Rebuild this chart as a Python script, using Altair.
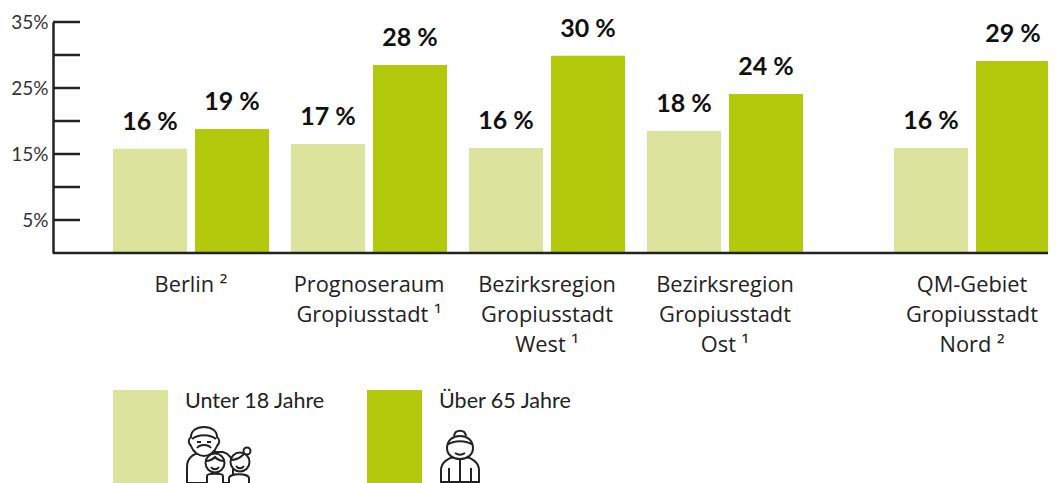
import altair as alt
import pandas as pd

AREAS_MAIN = ["Berlin", "Prognoseraum", "West", "Ost"]
AREAS_SIDE = ["QM"]
AREA_LABELS = ["Berlin ²", "Prognoseraum\nGropiusstadt ¹", "Bezirksregion\nGropiusstadt\nWest ¹",
               "Bezirksregion\nGropiusstadt\nOst ¹", "QM-Gebiet\nGropiusstadt\nNord ²"]
UNDER_18 = [15.8, 16.5, 15.9, 18.5, 15.9]
OVER_65 = [18.8, 28.5, 29.9, 24.1, 29.1]
UNDER_18_LABELS = ["16 %", "17 %", "16 %", "18 %", "16 %"]
OVER_65_LABELS = ["19 %", "28 %", "30 %", "24 %", "29 %"]
SERIES = ["Unter 18 Jahre", "Über 65 Jahre"]
COLORS = ["#dbe39c", "#b2c90c"]
TICKS = [5, 10, 15, 20, 25, 30, 35]
TICK_LABELS = [5, 15, 25, 35]

FONT = "Lato"
INK = "#222222"
W, H = 995, 231

rows = []
for i, a in enumerate(AREAS_MAIN + AREAS_SIDE):
    rows.append(dict(area=a, series=SERIES[0], value=UNDER_18[i], label=UNDER_18_LABELS[i]))
    rows.append(dict(area=a, series=SERIES[1], value=OVER_65[i], label=OVER_65_LABELS[i]))
df = pd.DataFrame(rows)
names = pd.DataFrame(dict(area=AREAS_MAIN + AREAS_SIDE, text=AREA_LABELS))

color = alt.Color("series:N", scale=alt.Scale(domain=SERIES, range=COLORS), legend=None)
yscale = alt.Scale(domain=[0, 35])
yaxis = alt.Axis(values=TICK_LABELS, labelExpr="datum.value + '%'", ticks=False, grid=False,
                 domainColor=INK, domainWidth=2.5, labelFont=FONT, labelFontSize=19,
                 labelColor="#333333", labelPadding=5, title=None)
yenc = alt.Y("value:Q", scale=yscale, axis=yaxis)


def group(areas, rng):
    sc = alt.Scale(type="band", domain=areas, range=rng, paddingInner=0.1236, paddingOuter=0)
    x = alt.X("area:N", scale=sc, axis=None, title=None, sort=None)
    xo_sc = alt.Scale(type="band", domain=SERIES, paddingInner=0.0976, paddingOuter=0)
    xo = alt.XOffset("series:N", scale=xo_sc, sort=None)
    sub = df[df.area.isin(areas)]
    bars = alt.Chart(sub).mark_bar().encode(x=x, xOffset=xo, y=yenc, color=color)
    nums = alt.Chart(sub).mark_text(baseline="bottom", dy=-14, font=FONT, fontSize=25, fontWeight="bold",
                                    color="#111111").encode(
        x=alt.X("area:N", scale=sc, axis=None, title=None, sort=None, bandPosition=0),
        xOffset=alt.XOffset("series:N", scale=xo_sc, sort=None, bandPosition=0.5),
        y=yenc, text="label:N")
    cats = alt.Chart(names[names.area.isin(areas)]).mark_text(
        baseline="middle", font="Open Sans", fontSize=21.8, color=INK, lineBreak="\n", lineHeight=30
    ).encode(x=alt.X("area:N", scale=sc, axis=None, title=None, sort=None, bandPosition=0.5),
             y=alt.value(263), text="text:N")
    return alt.layer(bars, nums, cats).resolve_scale(xOffset="independent")


main = group(AREAS_MAIN, [60, 750])
side = group(AREAS_SIDE, [841, 997])

tick_rules = alt.Chart(pd.DataFrame(dict(t=TICKS))).mark_rule(color=INK, strokeWidth=2.5).encode(
    y=alt.Y("t:Q", scale=yscale, axis=yaxis), x=alt.value(0), x2=alt.value(27))
baseline = alt.Chart(pd.DataFrame(dict(t=[0]))).mark_rule(color=INK, strokeWidth=2.5).encode(
    y=alt.Y("t:Q", scale=yscale, axis=yaxis), x=alt.value(0), x2=alt.value(W))


def swatch(name, x0):
    return alt.Chart(pd.DataFrame(dict(series=[name]))).mark_rect().encode(
        x=alt.value(x0), x2=alt.value(x0 + 55), y=alt.value(368), y2=alt.value(461), color=color)


def legend_text(name, x0):
    return alt.Chart(pd.DataFrame(dict(t=[name]))).mark_text(
        align="left", baseline="middle", font=FONT, fontSize=21.5, color=INK
    ).encode(x=alt.value(x0), y=alt.value(380), text="t:N")


def circ(cx, cy, r):
    return f"M{cx-r},{cy}A{r},{r} 0 1 0 {cx+r},{cy}A{r},{r} 0 1 0 {cx-r},{cy}Z"


def icon(path, x0, y0, fill="white"):
    return alt.Chart(pd.DataFrame(dict(p=[0]))).mark_point(
        shape=path, size=4, fill=fill, filled=True, stroke=INK, strokeWidth=2, opacity=1
    ).encode(x=alt.value(x0), y=alt.value(y0))


# elder with two children (relative to the anchor point)
elder_body = "M-16,38V22C-16,12 -9,9 -2,7L20,7C27,9 30,14 30,22V38Z"
elder_head = ("M-12,1C-15,-2 -15,-6 -12,-8C-12,-14 -7,-18 1,-18C9,-18 14,-14 14,-8C17,-6 17,-2 14,1"
              "C12,7 6,11 1,11C-4,11 -10,7 -12,1Z M-11,-6C-5,-11 7,-11 13,-6 M-6,3C-3,-1 5,-1 8,3 M-6,-3H-2 M4,-3H8")
child_head = circ(12, 18, 9.5) + "M3,16C7,16 10,14 12,12C14,14 18,16 21,16 M8,22C10,25 14,25 16,22"
child_body = "M4,38V31C4,28 20,28 20,31V38"
girl_body = "M26,38V33C26,28 46,28 46,33V38"
girl_head = circ(37, 17, 9.5) + circ(44, 6, 3.5) + "M28,15C33,15 38,12 41,9 M33,21C35,24 39,24 41,21"

# elder woman
gran_body = "M-19,34V22C-19,14 -11,10 -6,9L6,9C11,10 19,14 19,22V34Z M-11,34V20 M11,34V20 M0,11V34"
gran_head = ("M-13,0C-13,-8 -7,-12 0,-12C7,-12 13,-8 13,0C13,7 7,11 0,11C-7,11 -13,7 -13,0Z"
             "M-13,-3C-6,-8 6,-8 13,-3 M-6,-12C-5,-19 5,-19 6,-12 M-5,5C-2,7 2,7 5,5")

x_elder, y_elder = 150, 423
x_gran, y_gran = 407, 426

chart = alt.layer(
    main, side, tick_rules, baseline,
    swatch(SERIES[0], 60), swatch(SERIES[1], 314),
    legend_text(SERIES[0], 132), legend_text(SERIES[1], 386),
    icon(elder_body, x_elder, y_elder), icon(elder_head, x_elder, y_elder),
    icon(child_body, x_elder, y_elder), icon(child_head, x_elder, y_elder),
    icon(girl_body, x_elder, y_elder), icon(girl_head, x_elder, y_elder),
    icon(gran_body, x_gran, y_gran), icon(gran_head, x_gran, y_gran),
).resolve_scale(x="independent").properties(
    width=W, height=H, autosize="none",
    padding={"left": 45, "top": 14, "right": 0, "bottom": 230}, background="white"
).configure_view(stroke=None)

chart.save("out.html", embed_options={"renderer": "svg", "actions": False})
